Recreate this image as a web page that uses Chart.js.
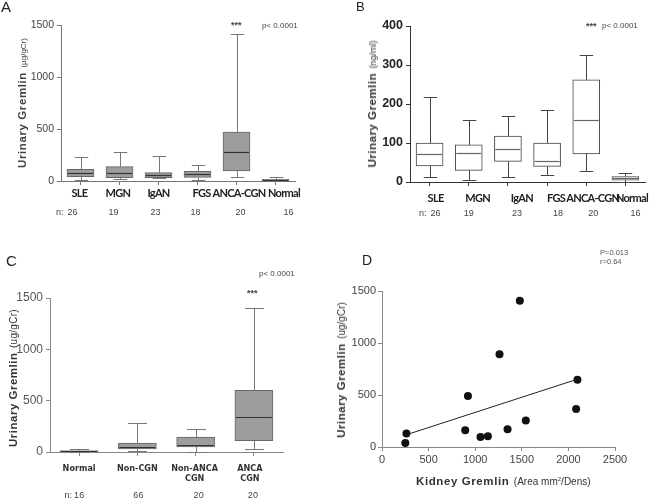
<!DOCTYPE html>
<html>
<head>
<meta charset="utf-8">
<script src="https://cdn.jsdelivr.net/npm/chart.js@4"></script>
<style>
body { margin: 0; background: #fff; }
#page { position: relative; width: 649px; height: 499px; overflow: hidden; font-family: "Liberation Sans", Arial, sans-serif; color: #333; }
canvas { position: absolute; }
.txt { position: absolute; white-space: nowrap; line-height: 1; }
.ytitle { position: absolute; white-space: nowrap; line-height: 1; transform: translate(-50%, -50%) rotate(-90deg); }
.letter { position: absolute; font-size: 15px; color: #222; line-height: 1; }
</style>
</head>
<body>
<div id="page">
  <canvas id="chartA" width="325" height="230" style="left:0;top:0"></canvas>
  <canvas id="chartB" width="324" height="230" style="left:325px;top:0"></canvas>
  <canvas id="chartC" width="325" height="249" style="left:0;top:250px"></canvas>
  <canvas id="chartD" width="324" height="249" style="left:325px;top:250px"></canvas>

  <div class="letter" style="left:1px;top:-1px;font-size:15px">A</div>
  <div class="letter" style="left:356px;top:0px;font-size:13px">B</div>
  <div class="letter" style="left:6px;top:253px;font-size:15px">C</div>
  <div class="letter" style="left:362px;top:253px;font-size:14px">D</div>

  <div class="ytitle" style="left:21px;top:103px;color:#444"><span style="font-weight:bold;font-size:11.5px;letter-spacing:0.6px">Urinary Gremlin</span> <span style="font-size:8px">(µg/gCr)</span></div>
  <div class="ytitle" style="left:371px;top:104px;color:#333"><span style="font-weight:bold;font-size:11.5px;letter-spacing:0.5px">Urinary Gremlin</span> <span style="font-size:9px">(ng/ml)</span></div>
  <div class="ytitle" style="left:12px;top:378px;color:#333"><span style="font-weight:bold;font-size:11.5px;letter-spacing:0.5px">Urinary Gremlin</span> <span style="font-size:10px;letter-spacing:0.3px">(ug/gCr)</span></div>
  <div class="ytitle" style="left:340px;top:370px;color:#333"><span style="font-weight:bold;font-size:11.5px;letter-spacing:0.5px">Urinary Gremlin</span> <span style="font-size:10px">(ug/gCr)</span></div>
  <div class="txt" style="left:416px;top:472px;color:#333"><span style="font-weight:bold;font-size:11.5px;letter-spacing:0.6px">Kidney Gremlin</span> <span style="font-size:10px">(Area mm<sup style="font-size:6px">2</sup>/Dens)</span></div>

  <div class="txt" style="left:231px;top:21px;font-size:9px;color:#444;font-weight:bold">***</div>
  <div class="txt" style="left:262px;top:22px;font-size:8px;color:#444">p&lt; 0.0001</div>
  <div class="txt" style="left:586px;top:22px;font-size:9px;color:#444;font-weight:bold">***</div>
  <div class="txt" style="left:602px;top:22px;font-size:8px;color:#444">p&lt; 0.0001</div>
  <div class="txt" style="left:259px;top:270px;font-size:8px;color:#444">p&lt; 0.0001</div>
  <div class="txt" style="left:247px;top:289px;font-size:9px;color:#444;font-weight:bold">***</div>
  <div class="txt" style="left:600px;top:249px;font-size:7.5px;color:#555">P=0.013</div>
  <div class="txt" style="left:600px;top:258px;font-size:7.5px;color:#555">r=0.64</div>
</div>
<script>
// A: urinary gremlin (ug/gCr) by disease
const groupsA = ['SLE', 'MGN', 'IgAN', 'FGS', 'ANCA-CGN', 'Normal'];
const nA = [26, 19, 23, 18, 20, 16];
const minA = [5, 15, 25, 10, 36, 0];
const q1A = [41, 32, 32, 35, 96, 4];
const medA = [74, 77, 58, 64, 276, 9];
const q3A = [112, 138, 80, 93, 471, 15];
const maxA = [228, 282, 237, 151, 1410, 41];

// B: urinary gremlin (ng/ml)
const groupsB = ['SLE', 'MGN', 'IgAN', 'FGS', 'ANCA-CGN', 'Normal'];
const nB = [26, 19, 23, 18, 20, 16];
const minB = [12, 4, 14, 19, 28, 0];
const q1B = [41, 30, 53, 40, 72, 5];
const medB = [73, 74, 85, 55, 160, 10];
const q3B = [100, 95, 118, 100, 262, 14];
const maxB = [219, 159, 170, 185, 326, 22];

// C: grouped
const groupsC = ['Normal', 'Non-CGN', ['Non-ANCA', 'CGN'], ['ANCA', 'CGN']];
const nC = [16, 66, 20, 20];
const minC = [0, 6, 3, 29];
const q1C = [3, 29, 49, 110];
const medC = [8, 49, 71, 341];
const q3C = [13, 88, 146, 600];
const maxC = [32, 279, 224, 1398];

// D: kidney vs urinary gremlin
const kidneyD = [250, 262, 893, 922, 1057, 1136, 1261, 1347, 1479, 1543, 2083, 2097];
const urineD = [38, 130, 160, 490, 96, 103, 891, 170, 1407, 256, 365, 647];
const fitX = [262, 2097];
const fitY = [118, 652];

const ticksCr = [0, 500, 1000, 1500];
const ticksMl = [0, 100, 200, 300, 400];
const ticksKidney = [0, 500, 1000, 1500, 2000, 2500];

const catFamily = 'Lato, "Liberation Sans", Arial, sans-serif';
const plainTick = v => String(v);

// whiskers, caps and median lines drawn with the chart's own scales
const boxPlugin = {
  id: 'boxes',
  afterDatasetsDraw(chart, args, opts) {
    if (!opts.mins) return;
    const ctx = chart.ctx;
    const y = chart.scales.y;
    const meta = chart.getDatasetMeta(0);
    ctx.save();
    ctx.lineWidth = 1;
    meta.data.forEach((bar, i) => {
      const cx = Math.round(bar.x) + 0.5;
      const half = bar.width / 2;
      const cap = half / 2;
      const yMin = Math.round(y.getPixelForValue(opts.mins[i])) + 0.5;
      const yMax = Math.round(y.getPixelForValue(opts.maxs[i])) + 0.5;
      const yQ1 = y.getPixelForValue(opts.q1s[i]);
      const yQ3 = y.getPixelForValue(opts.q3s[i]);
      const yMed = Math.round(y.getPixelForValue(opts.meds[i])) + 0.5;
      ctx.strokeStyle = opts.whiskerColor;
      ctx.beginPath();
      ctx.moveTo(cx, yQ3); ctx.lineTo(cx, yMax);
      ctx.moveTo(cx - cap, yMax); ctx.lineTo(cx + cap, yMax);
      ctx.moveTo(cx, yQ1); ctx.lineTo(cx, yMin);
      ctx.moveTo(cx - cap, yMin); ctx.lineTo(cx + cap, yMin);
      ctx.stroke();
      ctx.strokeStyle = opts.medianColor;
      ctx.lineWidth = opts.medianWidth || 1;
      ctx.beginPath();
      ctx.moveTo(bar.x - half + 1, yMed); ctx.lineTo(bar.x + half - 1, yMed);
      ctx.stroke();
      ctx.lineWidth = 1;
    });
    ctx.restore();
  }
};

// category names and the "n:" row, placed from the x scale
const catPlugin = {
  id: 'cats',
  afterDraw(chart, args, opts) {
    if (!opts.font) return;
    const ctx = chart.ctx;
    const x = chart.scales.x;
    const labels = chart.data.labels;
    ctx.save();
    ctx.textAlign = 'center';
    ctx.textBaseline = 'middle';
    ctx.font = opts.font;
    ctx.fillStyle = opts.color;
    if (opts.spacing && 'letterSpacing' in ctx) ctx.letterSpacing = opts.spacing;
    labels.forEach((lab, i) => {
      const px = x.getPixelForValue(i) + (opts.nudge ? opts.nudge[i] : 0);
      const lines = Array.isArray(lab) ? lab : [lab];
      lines.forEach((s, k) => ctx.fillText(s, px, opts.y + k * opts.lineHeight));
    });
    if ('letterSpacing' in ctx) ctx.letterSpacing = '0px';
    ctx.font = opts.nFont;
    ctx.fillStyle = opts.nColor;
    opts.n.forEach((v, i) => {
      const px = x.getPixelForValue(i) + (opts.nNudge ? opts.nNudge[i] : 0);
      ctx.fillText(String(v), px, opts.nY);
    });
    const first = x.getPixelForValue(0) + (opts.nNudge ? opts.nNudge[0] : 0);
    ctx.textAlign = 'right';
    ctx.fillText('n:', first - opts.prefixGap, opts.nY);
    ctx.restore();
  }
};

function boxChart(id, cfg) {
  return new Chart(document.getElementById(id), {
    type: 'bar',
    data: {
      labels: cfg.labels,
      datasets: [{
        data: cfg.q1s.map((v, i) => [v, cfg.q3s[i]]),
        backgroundColor: cfg.fill,
        borderColor: cfg.border,
        borderWidth: 1,
        borderSkipped: false,
        barThickness: cfg.barWidth,
      }],
    },
    options: {
      responsive: false,
      animation: false,
      layout: { padding: cfg.padding },
      plugins: {
        legend: { display: false },
        tooltip: { enabled: false },
        boxes: {
          mins: cfg.mins, maxs: cfg.maxs, q1s: cfg.q1s, q3s: cfg.q3s, meds: cfg.meds,
          whiskerColor: cfg.whisker, medianColor: cfg.median, medianWidth: cfg.medianWidth,
        },
        cats: cfg.cats,
      },
      scales: {
        x: {
          offset: true,
          grid: { offset: false, drawOnChartArea: false, tickLength: 4, color: cfg.axis },
          border: { color: cfg.axis, width: 1 },
          ticks: { display: false },
          afterFit(scale) { scale.height = cfg.xHeight; },
        },
        y: {
          min: cfg.yTicks[0],
          max: cfg.yTicks[cfg.yTicks.length - 1],
          afterBuildTicks(scale) { scale.ticks = cfg.yTicks.map(v => ({ value: v })); },
          grid: { drawOnChartArea: false, tickLength: 4, color: cfg.axis },
          border: { color: cfg.axis, width: 1 },
          ticks: { font: cfg.tickFont, color: cfg.tickColor, padding: 3, callback: plainTick },
          afterFit(scale) { scale.width = cfg.yWidth; },
        },
      },
    },
    plugins: [boxPlugin, catPlugin],
  });
}

boxChart('chartA', {
  labels: groupsA, mins: minA, q1s: q1A, meds: medA, q3s: q3A, maxs: maxA,
  fill: '#9d9d9d', border: '#666', whisker: '#777', median: '#333', medianWidth: 1.2,
  barWidth: 27, axis: '#777', yTicks: ticksCr,
  tickFont: { size: 10.5 }, tickColor: '#444',
  padding: { top: 25, right: 30, left: 0, bottom: 0 }, yWidth: 61, xHeight: 49,
  cats: {
    font: 'bold 11px ' + catFamily, color: '#222', y: 193, lineHeight: 10, spacing: '-0.7px',
    nudge: [-1, -1.5, 0, 4, 2.5, 8.5],
    n: nA, nY: 213, nNudge: [-8, -6, -3, -2, 4, 13], prefixGap: 9,
    nFont: '9px "Liberation Sans", Arial', nColor: '#444',
  },
});

boxChart('chartB', {
  labels: groupsB, mins: minB, q1s: q1B, meds: medB, q3s: q3B, maxs: maxB,
  fill: '#ffffff', border: '#444', whisker: '#444', median: '#666', medianWidth: 1.2,
  barWidth: 27, axis: '#333', yTicks: ticksMl,
  tickFont: { size: 12.5, weight: 'bold' }, tickColor: '#222',
  padding: { top: 26, right: 4, left: 0, bottom: 0 }, yWidth: 85, xHeight: 48,
  cats: {
    font: 'bold 11px ' + catFamily, color: '#222', y: 198, lineHeight: 10, spacing: '-0.7px',
    nudge: [6, 9, 14, 9, 6.5, 6.5],
    n: nB, nY: 214, nNudge: [6, 0, 9, 11, 7, 10], prefixGap: 9,
    nFont: '9px "Liberation Sans", Arial', nColor: '#444',
  },
});

boxChart('chartC', {
  labels: groupsC, mins: minC, q1s: q1C, meds: medC, q3s: q3C, maxs: maxC,
  fill: '#9d9d9d', border: '#666', whisker: '#777', median: '#333', medianWidth: 1.2,
  barWidth: 38, axis: '#888', yTicks: ticksCr,
  tickFont: { size: 12 }, tickColor: '#555',
  padding: { top: 48, right: 42, left: 0, bottom: 0 }, yWidth: 50, xHeight: 47,
  cats: {
    font: 'bold 9px "DejaVu Sans Condensed", "DejaVu Sans", sans-serif', color: '#333', y: 219, lineHeight: 10,
    nudge: [0, 0, -1, -4],
    n: nC, nY: 246, nNudge: [0, 1, 3, -1], prefixGap: 7,
    nFont: '9px "Liberation Sans", Arial', nColor: '#444',
  },
});

new Chart(document.getElementById('chartD'), {
  type: 'scatter',
  data: {
    datasets: [
      {
        data: kidneyD.map((v, i) => ({ x: v, y: urineD[i] })),
        backgroundColor: '#111',
        borderWidth: 0,
        pointRadius: 4,
      },
      {
        type: 'line',
        data: fitX.map((v, i) => ({ x: v, y: fitY[i] })),
        borderColor: '#222',
        borderWidth: 1,
        pointRadius: 0,
        fill: false,
      },
    ],
  },
  options: {
    responsive: false,
    animation: false,
    layout: { padding: { top: 41, right: 34, left: 0, bottom: 0 } },
    plugins: { legend: { display: false }, tooltip: { enabled: false } },
    scales: {
      x: {
        type: 'linear',
        min: 0, max: 2500,
        afterBuildTicks(scale) { scale.ticks = ticksKidney.map(v => ({ value: v })); },
        grid: { drawOnChartArea: false, tickLength: 4, color: '#888' },
        border: { color: '#888' },
        ticks: { font: { size: 11 }, color: '#444', padding: 2, callback: plainTick },
        afterFit(scale) { scale.height = 52; },
      },
      y: {
        min: 0, max: 1500,
        afterBuildTicks(scale) { scale.ticks = ticksCr.map(v => ({ value: v })); },
        grid: { drawOnChartArea: false, tickLength: 4, color: '#888' },
        border: { color: '#888' },
        ticks: { font: { size: 11 }, color: '#444', padding: 2, callback: plainTick },
        afterFit(scale) { scale.width = 57; },
      },
    },
  },
});
</script>
</body>
</html>
